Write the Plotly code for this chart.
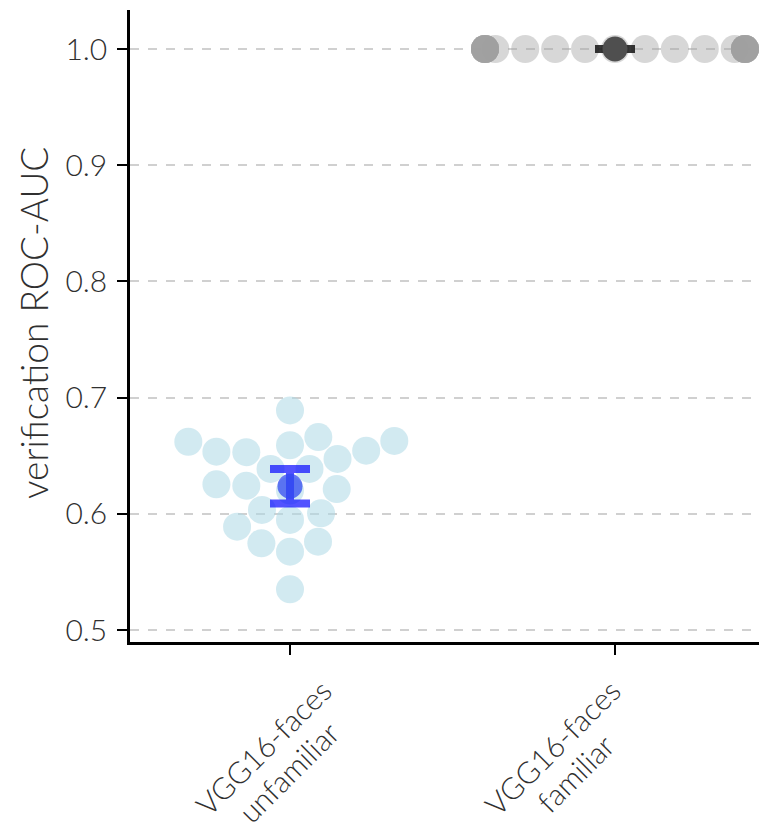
import numpy as np
import plotly.graph_objects as go

# ---------------- data ----------------
category_lines = [["VGG16-faces", "unfamiliar"], ["VGG16-faces", "familiar"]]

unfamiliar_auc = [0.689, 0.662, 0.6535, 0.653, 0.659, 0.666, 0.6543, 0.6627,
                  0.6472, 0.6386, 0.6386, 0.6254, 0.6242, 0.6213, 0.620,
                  0.6033, 0.6004, 0.5947, 0.5889, 0.5746, 0.576, 0.5674, 0.535]
familiar_auc = [1.0, 1.0, 1.0, 1.0, 1.0, 1.0, 1.0, 1.0, 1.0, 1.0, 1.0, 1.0,
                1.0, 1.0, 1.0, 1.0, 1.0, 1.0, 1.0, 1.0, 1.0, 1.0, 1.0]

mean_auc = [0.6237, 1.0]
ci_auc = [0.0148, 0.0]

y_tick_values = [0.5, 0.6, 0.7, 0.8, 0.9, 1.0]
y_tick_labels = ["0.5", "0.6", "0.7", "0.8", "0.9", "1.0"]

# ---------------- geometry ----------------
# the page body has an 8px margin, so the figure is sized to end at the window edge
W, H = 759, 823
M_L, M_R, M_T, M_B = 122, 0, 2, 189
X_RANGE = [-0.4923, 1.4677]
Y_RANGE = [0.48967, 1.03356]
PX_X = (W - M_L - M_R) / (X_RANGE[1] - X_RANGE[0])
PX_Y = (H - M_T - M_B) / (Y_RANGE[1] - Y_RANGE[0])
DOT = 28.5          # marker diameter (px) used for the swarm layout
HALF_WIDTH = 0.4    # swarm gutter (category units)


def swarm_offsets(values):
    """Beeswarm (seaborn-like) layout in pixel space; returns x offsets in data units."""
    vals = np.asarray(values, dtype=float)
    order = np.argsort(vals, kind="stable")
    ys = vals[order] * PX_Y
    placed = []
    for y in ys:
        if not placed:
            placed.append((0.0, y))
            continue
        neighbors = []
        for px, py in reversed(placed):
            if y - py < DOT:
                neighbors.append((px, py))
            else:
                break
        cands = [(0.0, y)]
        left_first = True
        for px, py in neighbors:
            dy = y - py
            dx = np.sqrt(max(DOT ** 2 - dy ** 2, 0.0)) * 1.05
            cl, cr = (px - dx, y), (px + dx, y)
            cands.extend([cl, cr] if left_first else [cr, cl])
            left_first = not left_first
        cands.sort(key=lambda c: abs(c[0]))
        chosen = cands[0]
        for c in cands:
            if all((c[0] - nx) ** 2 + (c[1] - ny) ** 2 >= DOT ** 2 - 1e-9 for nx, ny in neighbors):
                chosen = c
                break
        placed.append(chosen)
    offs = np.empty(len(vals))
    offs[order] = [p[0] / PX_X for p in placed]
    return np.clip(offs, -HALF_WIDTH, HALF_WIDTH)


fig = go.Figure()

# familiar swarm (gray)
fam_x = 1 + swarm_offsets(familiar_auc)
fig.add_trace(go.Scatter(
    x=fam_x, y=familiar_auc, mode="markers",
    marker=dict(size=28, color="rgba(160,160,160,0.42)", line=dict(width=0)),
    hoverinfo="skip"))

# unfamiliar swarm (light blue)
unf_x = 0 + swarm_offsets(unfamiliar_auc)
fig.add_trace(go.Scatter(
    x=unf_x, y=unfamiliar_auc, mode="markers",
    marker=dict(size=28, color="rgba(173,216,230,0.55)", line=dict(width=0)),
    hoverinfo="skip"))

# means with error bars
fig.add_trace(go.Scatter(
    x=[0], y=[mean_auc[0]], mode="markers",
    marker=dict(size=25, color="rgba(50,75,240,0.75)", line=dict(width=0)),
    error_y=dict(type="data", array=[ci_auc[0]], color="rgba(0,0,255,0.68)",
                 thickness=8, width=20),
    hoverinfo="skip"))
fig.add_trace(go.Scatter(
    x=[1], y=[mean_auc[1]], mode="markers",
    marker=dict(size=25, color="#4f4f4f", line=dict(width=0)),
    error_y=dict(type="data", array=[ci_auc[1]], color="rgba(20,20,20,0.85)",
                 thickness=8, width=20),
    hoverinfo="skip"))

FONT = "Lato, 'Open Sans', 'DejaVu Sans', sans-serif"
TXT = "#303030"

fig.update_layout(
    width=W, height=H,
    margin=dict(l=M_L, r=M_R, t=M_T, b=M_B, pad=0),
    plot_bgcolor="white", paper_bgcolor="white",
    showlegend=False,
    xaxis=dict(range=X_RANGE, tickvals=[0, 1], ticktext=["", ""],
               ticks="outside", ticklen=10, tickwidth=1.5, tickcolor="black",
               showline=True, linecolor="black", linewidth=2.5,
               showgrid=False, zeroline=False, fixedrange=True),
    yaxis=dict(range=Y_RANGE, tickvals=y_tick_values, ticktext=y_tick_labels,
               ticks="outside", ticklen=10, tickwidth=1.5, tickcolor="black",
               showline=True, linecolor="black", linewidth=2.5,
               showgrid=True, gridcolor="#d0d0d0", griddash="dash", gridwidth=1.5,
               zeroline=False, ticklabelstandoff=4,
               tickfont=dict(family=FONT, size=30, color=TXT, weight=300)),
)

# y-axis title
fig.add_annotation(text="verification ROC-AUC", xref="paper", yref="paper",
                   x=0, y=0.5, xshift=-97, yshift=3, textangle=-90,
                   showarrow=False, xanchor="center", yanchor="middle",
                   font=dict(family=FONT, size=37, color=TXT, weight=300))

# rotated category labels, one annotation per text line
line_shifts = [[(-27, -105), (-2, -130)], [(-63, -105), (-40, -131)]]
for i, lines in enumerate(category_lines):
    for j, txt in enumerate(lines):
        fig.add_annotation(text=txt, xref="x", yref="paper", x=i, y=0,
                           xshift=line_shifts[i][j][0], yshift=line_shifts[i][j][1],
                           textangle=-45, showarrow=False,
                           xanchor="center", yanchor="middle",
                           font=dict(family=FONT, size=30, color=TXT, weight=300))

fig.write_html("out.html")
